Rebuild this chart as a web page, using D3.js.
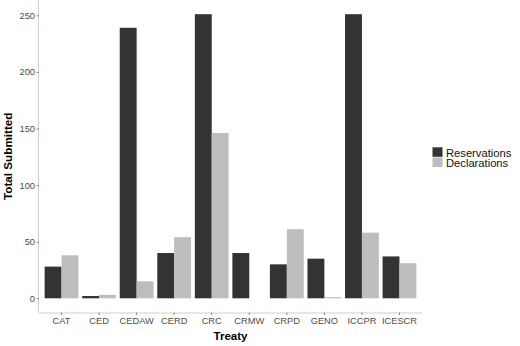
<!DOCTYPE html>
<html>
<head>
<meta charset="utf-8">
<script src="https://cdn.jsdelivr.net/npm/d3@7"></script>
<style>
  body { margin: 0; background: #fff; }
  text { font-family: "Liberation Sans", Arial, sans-serif; }
</style>
</head>
<body>
<script>
// data
var treaties = ['CAT', 'CED', 'CEDAW', 'CERD', 'CRC', 'CRMW', 'CRPD', 'GENO', 'ICCPR', 'ICESCR']
var reservations = [28, 2, 239, 40, 251, 40, 30, 35, 251, 37]
var declarations = [38, 3, 15, 54, 146, 0, 61, 1, 58, 31]
var seriesNames = ['Reservations', 'Declarations']
var yTicks = [0, 50, 100, 150, 200, 250]

var colors = { Reservations: '#333333', Declarations: '#bdbdbd' }

var W = 520, H = 346
var panel = { left: 39, right: 422, top: 0, bottom: 312.5 }

var data = treaties.map((t, i) => ({
    treaty: t,
    Reservations: reservations[i],
    Declarations: declarations[i]
}))

var svg = d3.select('body').append('svg')
    .attr('width', W)
    .attr('height', H)

// scales: dodge width 0.9, discrete expansion 0.6 -> outer padding 0.15
var x = d3.scaleBand()
    .domain(treaties)
    .range([panel.left, panel.right])
    .paddingInner(0.1)
    .paddingOuter(0.15)

var x1 = d3.scaleBand()
    .domain(seriesNames)
    .range([0, x.bandwidth()])

var ymax = d3.max(data, d => Math.max(d.Reservations, d.Declarations))
var y = d3.scaleLinear()
    .domain([-ymax * 0.05, ymax * 1.05])
    .range([panel.bottom, panel.top])

// bars
var groups = svg.append('g').selectAll('g')
    .data(data)
    .join('g')
    .attr('transform', d => 'translate(' + x(d.treaty) + ',0)')

groups.selectAll('rect')
    .data(d => seriesNames.map(k => ({ key: k, value: d[k] })))
    .join('rect')
    .attr('x', d => x1(d.key))
    .attr('width', x1.bandwidth())
    .attr('y', d => y(d.value))
    .attr('height', d => y(0) - y(d.value))
    .attr('fill', d => colors[d.key])

// axes
var axisColor = '#cfcfcf'
var xAxis = svg.append('g')
    .attr('transform', 'translate(0,' + panel.bottom + ')')
    .call(d3.axisBottom(x).tickSize(2.5).tickPadding(2))
var yAxis = svg.append('g')
    .attr('transform', 'translate(' + panel.left + ',0)')
    .call(d3.axisLeft(y).tickValues(yTicks).tickSize(2.5).tickPadding(1.5))

;[xAxis, yAxis].forEach(a => {
    a.select('.domain').attr('stroke', axisColor).attr('stroke-width', 1)
    a.selectAll('.tick line').attr('stroke', '#888')
    a.selectAll('.tick text')
        .attr('fill', '#4d4d4d')
        .style('font-size', '9.3px')
        .style('font-family', '"Liberation Sans", Arial, sans-serif')
})
// keep domain lines spanning the full panel
xAxis.select('.domain').attr('d', 'M' + panel.left + ',0.5H' + panel.right)
yAxis.select('.domain').attr('d', 'M-0.5,' + panel.bottom + 'V' + panel.top)

// axis titles
svg.append('text')
    .attr('x', (panel.left + panel.right) / 2)
    .attr('y', 340)
    .attr('text-anchor', 'middle')
    .style('font-size', '11.5px')
    .style('font-weight', 'bold')
    .text('Treaty')

svg.append('text')
    .attr('transform', 'translate(11.7,' + (panel.bottom / 2) + ') rotate(-90)')
    .attr('text-anchor', 'middle')
    .style('font-size', '11.7px')
    .style('font-weight', 'bold')
    .text('Total Submitted')

// legend
var legend = svg.append('g')
    .attr('transform', 'translate(432.5,147.3)')
var items = legend.selectAll('g')
    .data(seriesNames)
    .join('g')
    .attr('transform', (d, i) => 'translate(0,' + (i * 10.2) + ')')
items.append('rect')
    .attr('width', 10)
    .attr('height', 9.5)
    .attr('fill', d => colors[d])
items.append('text')
    .attr('x', 13.5)
    .attr('y', 9.8)
    .style('font-size', '11.2px')
    .attr('fill', '#111')
    .text(d => d)
</script>
</body>
</html>
